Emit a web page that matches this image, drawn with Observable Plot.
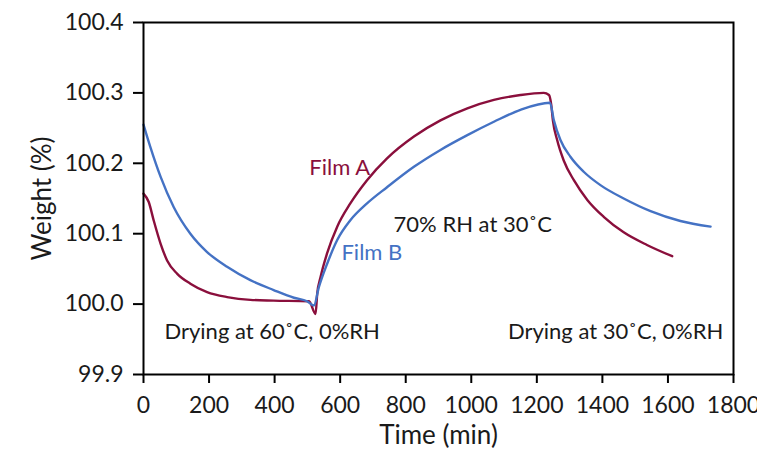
<!DOCTYPE html>
<html>
<head>
<meta charset="utf-8">
<script src="https://cdn.jsdelivr.net/npm/d3@7"></script>
<script src="https://cdn.jsdelivr.net/npm/@observablehq/plot@0.6"></script>
<style>
  html, body { margin: 0; padding: 0; background: #fff; }
  #chart svg { display: block; }
</style>
</head>
<body>
<div id="chart"></div>
<script>
// Film A (dark red)
const filmATime = [0, 16, 31, 52, 72, 103, 143, 194, 255, 326, 397, 505, 525, 530, 540, 560, 591, 631, 682, 743, 825, 906, 988, 1069, 1150, 1221, 1237, 1244, 1249, 1262, 1282, 1313, 1354, 1404, 1465, 1536, 1613];
const filmAWeight = [100.157, 100.145, 100.119, 100.086, 100.062, 100.043, 100.029, 100.017, 100.010, 100.006, 100.005, 100.004, 99.986, 100.015, 100.038, 100.072, 100.110, 100.143, 100.176, 100.207, 100.238, 100.261, 100.278, 100.290, 100.297, 100.300, 100.297, 100.283, 100.261, 100.233, 100.204, 100.176, 100.148, 100.124, 100.102, 100.084, 100.068];

// Film B (blue)
const filmBTime = [0, 21, 52, 92, 143, 194, 255, 326, 397, 459, 499, 520, 535, 560, 591, 631, 682, 743, 825, 906, 988, 1069, 1150, 1240, 1252, 1272, 1303, 1343, 1394, 1465, 1547, 1638, 1730];
const filmBWeight = [100.255, 100.223, 100.181, 100.138, 100.100, 100.074, 100.053, 100.034, 100.020, 100.009, 100.004, 99.998, 100.024, 100.057, 100.091, 100.119, 100.143, 100.166, 100.195, 100.219, 100.240, 100.259, 100.276, 100.286, 100.261, 100.233, 100.209, 100.188, 100.169, 100.150, 100.132, 100.118, 100.110];

const xTicks = [0, 200, 400, 600, 800, 1000, 1200, 1400, 1600, 1800];
const yTicks = [99.9, 100.0, 100.1, 100.2, 100.3, 100.4];

const labelsStart = [
  {text: "Film A", time: 506, weight: 100.183, color: "#8a0f3c"},
  {text: "Film B", time: 604, weight: 100.062, color: "#4472c4"},
  {text: "70% RH at 30˚C", time: 763, weight: 100.102, color: "#1a1a1a"},
  {text: "Drying at 60˚C, 0%RH", time: 64, weight: 99.950, color: "#1a1a1a"}
];
const labelsEnd = [
  {text: "Drying at 30˚C, 0%RH", time: 1769, weight: 99.950, color: "#1a1a1a"}
];

const colorA = "#8a0f3c";
const colorB = "#4472c4";

const rows = [
  ...filmATime.map((t, i) => ({series: "Film A", time: t, weight: filmAWeight[i]})),
  ...filmBTime.map((t, i) => ({series: "Film B", time: t, weight: filmBWeight[i]}))
];

const chart = Plot.plot({
  width: 757,
  height: 451,
  marginLeft: 143,
  marginRight: 24,
  marginTop: 22,
  marginBottom: 77,
  style: {fontFamily: "Lato, 'Open Sans', sans-serif", fontSize: "22px", color: "#1a1a1a", background: "#fff", overflow: "visible"},
  x: {domain: [0, 1800]},
  y: {domain: [99.9, 100.4]},
  color: {domain: ["Film A", "Film B"], range: [colorA, colorB]},
  marks: [
    Plot.axisX({ticks: xTicks, tickSize: 9, tickPadding: 13, strokeWidth: 2, stroke: "#000", tickFormat: d3.format("d"), label: null, fontSize: 23}),
    Plot.axisY({ticks: yTicks, tickSize: 10, tickPadding: 10, strokeWidth: 2, stroke: "#000", tickFormat: d3.format(".1f"), label: null, fontSize: 23}),
    Plot.line(rows, {x: "time", y: "weight", z: "series", stroke: "series", strokeWidth: 2.4, curve: "monotone-x"}),
    Plot.frame({stroke: "#000", strokeWidth: 2}),
    Plot.text(labelsStart, {x: "time", y: "weight", text: "text", fill: "color", textAnchor: "start", lineAnchor: "bottom", fontSize: 22}),
    Plot.text(labelsEnd, {x: "time", y: "weight", text: "text", fill: "color", textAnchor: "end", lineAnchor: "bottom", fontSize: 22}),
    Plot.text(["Time (min)"], {frameAnchor: "bottom", dy: 69, lineAnchor: "bottom", fontSize: 26}),
    Plot.text(["Weight (%)"], {x: -308, y: 100.15, rotate: -90, fontSize: 26})
  ]
});

document.getElementById("chart").appendChild(chart);
</script>
</body>
</html>
